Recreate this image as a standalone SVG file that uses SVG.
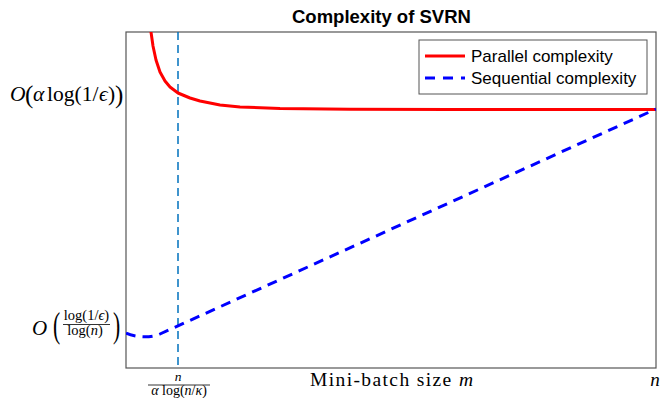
<svg xmlns="http://www.w3.org/2000/svg" width="661" height="398" viewBox="0 0 661 398">
  <style>
    .title { font-family: "Liberation Sans", Arial, sans-serif; font-weight: bold; font-size: 18.5px; fill: #000; }
    .leg { font-family: "Liberation Sans", Arial, sans-serif; font-size: 17px; fill: #000; }
    .math { font-family: "Liberation Serif", "DejaVu Serif", serif; fill: #000; }
    .it { font-style: italic; }
    .axes { fill: #fff; stroke: #555; stroke-width: 1.2; }
    .par { fill: none; stroke: #ff0000; stroke-width: 3; stroke-linejoin: round; stroke-linecap: butt; }
    .seq { fill: none; stroke: #0000ff; stroke-width: 3; stroke-dasharray: 10 7; stroke-linejoin: round; }
    .mark { fill: none; stroke: #0072bd; stroke-width: 1.5; stroke-dasharray: 8 5; }
  </style>
  <defs>
    <clipPath id="plotArea">
      <rect x="126" y="32" width="530" height="336"/>
    </clipPath>
  </defs>

  <rect width="661" height="398" fill="#fff"/>

  <!-- title -->
  <text class="title" x="292" y="23">Complexity of SVRN</text>

  <!-- axes box -->
  <rect class="axes" x="126" y="32" width="530" height="336"/>

  <!-- curves -->
  <g id="connectors" clip-path="url(#plotArea)">
    <line id="threshold" class="mark" x1="178" y1="32" x2="178" y2="368"/>
    <polyline id="parallel" class="par" points="150,26 151,32 153,46 156,60 160,72 165,81 170,87 178,93 190,98 200,101 220,105 240,107 280,108.5 350,109.3 450,109.5 656,109.5"/>
    <path id="sequential" class="seq" d="M126,333 C134,337 150,338.5 160,334 L656,109"/>
  </g>

  <!-- legend -->
  <g id="legend">
    <rect x="419" y="40" width="228" height="54" fill="#fff" stroke="#555" stroke-width="1"/>
    <line x1="425" y1="56" x2="465" y2="56" stroke="#ff0000" stroke-width="3"/>
    <text class="leg" x="471" y="62">Parallel complexity</text>
    <line x1="425" y1="78" x2="465" y2="78" stroke="#0000ff" stroke-width="3" stroke-dasharray="10 8"/>
    <text class="leg" x="471" y="84">Sequential complexity</text>
  </g>

  <!-- y tick labels -->
  <g id="ylabel-top" class="math">
    <text x="10" y="101" font-size="21.5" class="it">O</text>
    <text x="25" y="103" font-size="25">(</text>
    <text x="33" y="101" font-size="21.5" class="it">α</text>
    <text x="47" y="101" font-size="21.5">log(1/</text>
    <text x="99" y="101" font-size="21.5" class="it">ϵ</text>
    <text x="108" y="101" font-size="21.5">)</text>
    <text x="115" y="103" font-size="25">)</text>
  </g>
  <g id="ylabel-bottom" class="math">
    <text x="32" y="335" font-size="21" class="it">O</text>
    <text transform="translate(53,337) scale(0.6,1)" font-size="36">(</text>
    <text x="86.5" y="320" font-size="14.5" text-anchor="middle">log(1/<tspan class="it">ϵ</tspan>)</text>
    <line x1="63" y1="324.5" x2="110" y2="324.5" stroke="#000" stroke-width="0.8"/>
    <text x="85" y="335" font-size="14.5" text-anchor="middle">log(<tspan class="it">n</tspan>)</text>
    <text transform="translate(113,337) scale(0.6,1)" font-size="36">)</text>
  </g>

  <!-- x tick labels -->
  <g id="xlabel-threshold" class="math">
    <text x="178" y="381" font-size="13.5" text-anchor="middle" class="it">n</text>
    <line x1="148" y1="385" x2="210" y2="385" stroke="#000" stroke-width="0.8"/>
    <text x="179" y="395" font-size="14" text-anchor="middle"><tspan class="it">α</tspan> log(<tspan class="it">n</tspan>/<tspan class="it">κ</tspan>)</text>
  </g>
  <g id="xlabel" class="math">
    <text x="310" y="386" font-size="19.5" textLength="163">Mini-batch size <tspan class="it">m</tspan></text>
    <text x="655" y="386" font-size="19" text-anchor="middle" class="it">n</text>
  </g>
</svg>
